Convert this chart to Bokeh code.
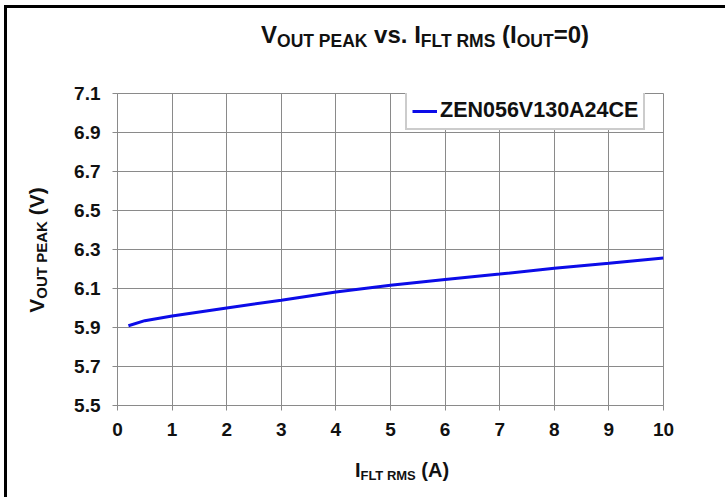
from bokeh.plotting import figure
from bokeh.models import (FixedTicker, PrintfTickFormatter, Legend, LegendItem,
                          Range1d, Div)
from bokeh.layouts import column, row
from bokeh.embed import file_html
from bokeh.resources import INLINE

# ---- data ----
current_a = [0.2, 0.5, 1, 2, 3, 4, 5, 6, 7, 8, 9, 10]
vout_peak = [5.909, 5.935, 5.959, 6.0, 6.04, 6.082, 6.117, 6.146, 6.174, 6.204, 6.229, 6.257]
series_name = "ZEN056V130A24CE"
x_ticks = [0, 1, 2, 3, 4, 5, 6, 7, 8, 9, 10]
y_ticks = [5.5, 5.7, 5.9, 6.1, 6.3, 6.5, 6.7, 6.9, 7.1]

FONT = "Liberation Sans"
TXT = "#111111"
GRID = "#8a8a8a"

PAGE_W, PAGE_H = 725, 497
TOP_H = 60       # title strip
LEFT_W = 60      # y-label strip
BOT_H = 47       # x-label strip
FIG_W = PAGE_W - LEFT_W
FIG_H = PAGE_H - TOP_H - BOT_H
L, R, T, B = 117, 663, 93, 405  # desired frame edges on the page

fig = figure(width=FIG_W, height=FIG_H, output_backend="svg", toolbar_location=None,
             x_range=Range1d(0, 10), y_range=Range1d(5.5, 7.1),
             min_border_left=L - LEFT_W, min_border_right=LEFT_W + FIG_W - R,
             min_border_top=T - TOP_H, min_border_bottom=TOP_H + FIG_H - B,
             margin=0)
fig.background_fill_color = "white"
fig.border_fill_color = "white"
fig.outline_line_color = GRID
fig.outline_line_width = 1

for ax in (fig.xaxis[0], fig.yaxis[0]):
    ax.axis_line_color = GRID
    ax.axis_line_width = 1
    ax.major_tick_line_color = GRID
    ax.major_tick_out = 5
    ax.major_tick_in = 0
    ax.minor_tick_line_color = None
    ax.major_label_text_font = FONT
    ax.major_label_text_font_style = "bold"
    ax.major_label_text_font_size = "19px"
    ax.major_label_text_color = TXT
fig.xaxis.ticker = FixedTicker(ticks=x_ticks)
fig.yaxis.ticker = FixedTicker(ticks=y_ticks)
fig.yaxis.formatter = PrintfTickFormatter(format="%.1f")
fig.xaxis.major_label_standoff = 12
fig.yaxis.major_label_standoff = 12

fig.xgrid.ticker = FixedTicker(ticks=x_ticks)
fig.ygrid.ticker = FixedTicker(ticks=y_ticks)
fig.grid.grid_line_color = GRID
fig.grid.grid_line_width = 1

r = fig.line(current_a, vout_peak, line_color="#0c0ce8", line_width=3)

legend = Legend(items=[LegendItem(label=series_name, renderers=[r])],
                location=(288, 275))
legend.label_text_font = FONT
legend.label_text_font_style = "bold"
legend.label_text_font_size = "21.5px"
legend.label_text_color = TXT
legend.border_line_color = "#9a9a9a"
legend.border_line_width = 2
legend.padding = 5
legend.margin = 0
legend.glyph_width = 25
legend.glyph_height = 22
legend.label_standoff = 3
legend.label_height = 22
legend.background_fill_alpha = 1
fig.add_layout(legend)

BAR = 'position:absolute;background:#000;'
TXT_CSS = ('position:absolute;white-space:nowrap;font-family:' + FONT + ';'
           'font-weight:bold;color:' + TXT + ';line-height:1;')


def sub(s, size, drop):
    return ('<span style="font-size:%spx;position:relative;top:%spx">%s</span>'
            % (size, drop, s))


def box(w, h, inner):
    return ('<div style="position:relative;width:%dpx;height:%dpx">%s</div>'
            % (w, h, inner))


def bar(left, top, w, h):
    return ('<div style="%sleft:%dpx;top:%dpx;width:%dpx;height:%dpx"></div>'
            % (BAR, left, top, w, h))


def text_at(cx, cy, size, html, rotate=False):
    tr = 'translate(-50%,-50%)' + (' rotate(-90deg)' if rotate else '')
    return ('<span style="%sfont-size:%spx;left:%spx;top:%spx;transform:%s">%s</span>'
            % (TXT_CSS, size, cx, cy, tr, html))


title_html = ("V" + sub("OUT PEAK", 17.5, 4) + " vs. I" + sub("FLT RMS", 17.5, 4)
              + " (I" + sub("OUT", 17.5, 4) + "=0)")
title_div = Div(width=PAGE_W, height=TOP_H, margin=0, text=box(
    PAGE_W, TOP_H,
    bar(4, 5, PAGE_W - 4, 3) + bar(4, 5, 3, TOP_H - 5)
    + text_at(425, 35, 24, title_html)))

ylab_html = "V" + sub("OUT PEAK", 15, 3) + " (V)"
ylab_div = Div(width=LEFT_W, height=FIG_H, margin=0, text=box(
    LEFT_W, FIG_H,
    bar(4, 0, 3, FIG_H) + text_at(36, 250 - TOP_H, 21, ylab_html, rotate=True)))

xlab_html = "I" + sub("FLT RMS", 13, 3) + " (A)"
xlab_div = Div(width=PAGE_W, height=BOT_H, margin=0, text=box(
    PAGE_W, BOT_H,
    bar(4, 0, 3, BOT_H) + text_at(402, 470 - TOP_H - FIG_H, 20, xlab_html)))

p = column(title_div, row(ylab_div, fig, spacing=0, margin=0),
           xlab_div, spacing=0, margin=0)

open("out.html", "w").write(file_html(p, INLINE))
